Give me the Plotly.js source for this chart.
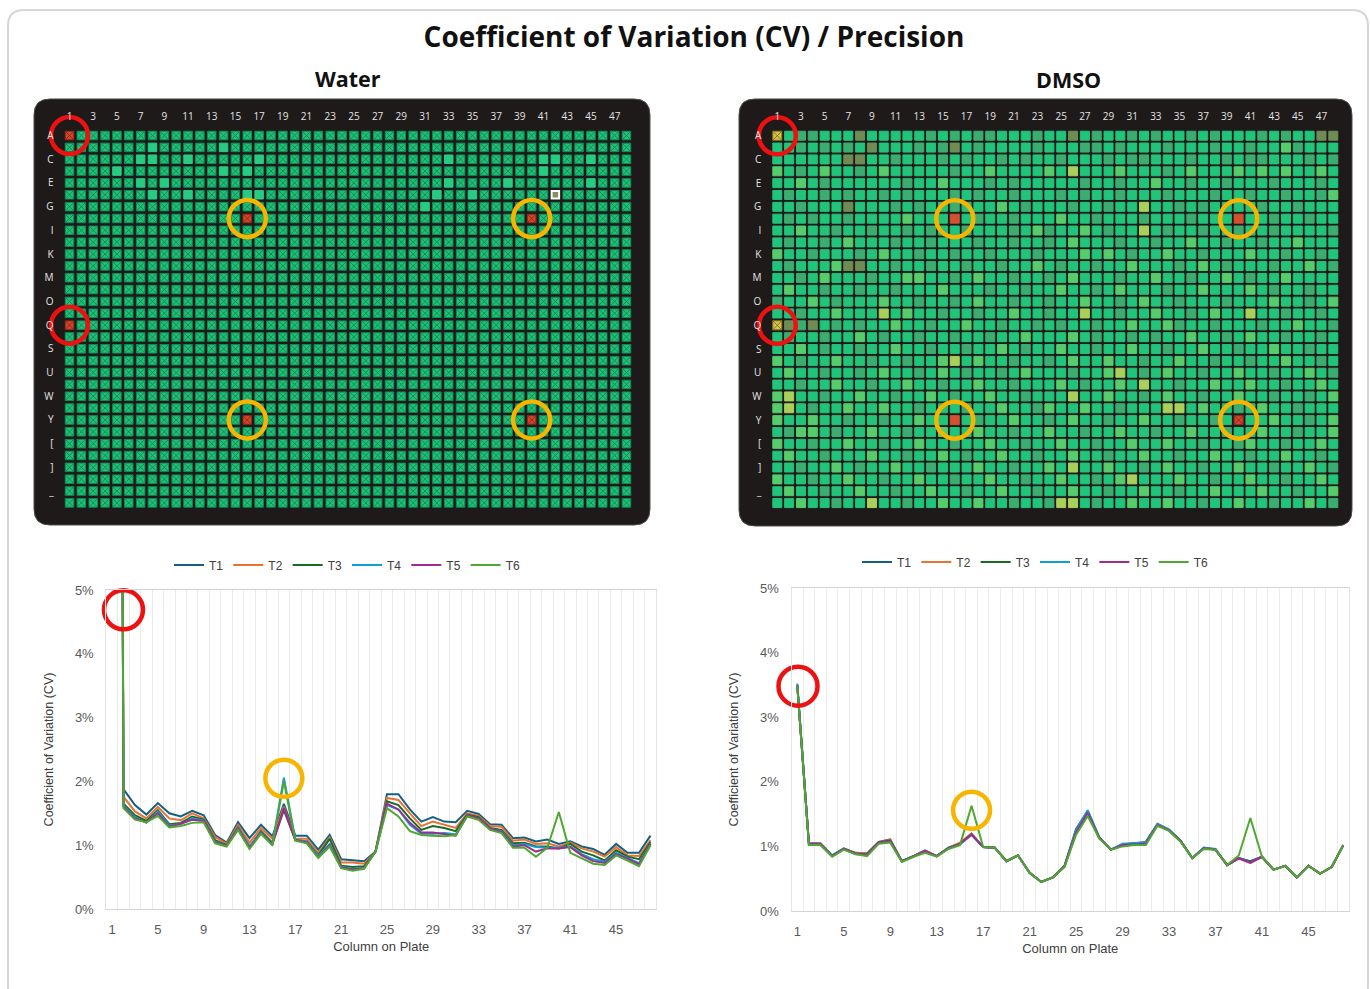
<!DOCTYPE html>
<html><head><meta charset="utf-8">
<script src="https://cdn.plot.ly/plotly-3.0.1.min.js"></script>
<style>html,body{margin:0;padding:0;background:#fff}#chart{width:1370px;height:989px}</style>
</head><body><div id="chart"></div>
<script>
const W = 1370, H = 989;

// ---------- categories ----------
const plateColumns = [1,2,3,4,5,6,7,8,9,10,11,12,13,14,15,16,17,18,19,20,21,22,23,24,25,26,27,28,29,30,31,32,33,34,35,36,37,38,39,40,41,42,43,44,45,46,47,48];
const plateRowLabels = ['A','B','C','D','E','F','G','H','I','J','K','L','M','N','O','P','Q','R','S','T','U','V','W','X','Y','Z','[','\\',']','^','_','`'];
const plateColTicks = [1,3,5,7,9,11,13,15,17,19,21,23,25,27,29,31,33,35,37,39,41,43,45,47];
const plateRowTicks = [1,3,5,7,9,11,13,15,17,19,21,23,25,27,29,31];
const lineColTicks = [1,5,9,13,17,21,25,29,33,37,41,45];
const seriesNames = ['T1','T2','T3','T4','T5','T6'];
const seriesColors = ['#156082','#E97132','#196B24','#0F9ED5','#A02B93','#4EA72E'];

// ---------- Water plate (row, column) ----------
const waterLightWells = [[2,8],[2,14],[3,7],[3,8],[3,11],[3,17],[4,5],[4,14],[4,16],[5,7],[5,9],[6,8],[6,11],[6,16],[6,17],
  [3,33],[3,41],[3,42],[3,45],[4,41],[5,33],[5,38],[5,45],[6,32],[6,35],[7,31]];
const waterRedWells = [[1,1],[17,1],[8,16],[8,40],[25,16],[25,40]];
const waterFlaggedWells = [[6,42]];

// ---------- DMSO plate: one character per well ----------
// . bright green, d muted green, o olive, l light green, y yellow-green, Y yellow (x), R red, r red (x)
const dmsoRows = [
 "Y.dd...o .....d.d .dd...d. .o.d..d. d..d.d.. .d.d..oo",
 "..d.d.d. o...d.do .d....d. ..dd.d.. .d...d.. d..ld...",
 "......oo ..d...d. d..d.d.. d...d.dd ...d..d. dd...d.d",
 "l.d.l..d .l.....d ..l....l .y...l.. .d.l...l .l.l..l.",
 "..l.d... ...d..l. ..d.d... ..d..d.. l..d..d. ..d...d.",
 ".d..d.d. .d.d...d .d..d... d.d..d.. .d...d.. d..d..dl",
 "..d...o. ..d.d..d ...l.d.. .d..d..y ..d.d... .d..d...",
 ".d.d..d. ...l...R .d..d... l..d...d ...d...R ..d..d..",
 "..l..d.. d..d.d.. d...d.ld ..l.d..y .d..d..d ..d....d",
 ".d..d.l. ..d..d.. .d..d..d .l...d.. d..l..d. .d..l...",
 "l..d...d .l..d..d ..d...d. ..l.l.d. .l..d... l..d..d.",
 ".d...loo ..d..d.. d..d..l. d..d..l. ..d.l.d. ..d..l.d",
 "..d.l... d..ll..d .l..d..d .l...d.. l..d..l. d..l....",
 ".l..d..d ..d...l. ..d..d.. l..d.l.. .d..l... l.d..d..",
 "d..l.d.. .l..d..d .l..d..d ..l..d.l ..d...d. ..l..d.l",
 "..d..l.. .y.l..d. .d..l..d ..y..d.. l..d.l.. y..d..d.",
 "Yodo.d.d ..l..d.. l..d..d. d..d..l. .ld..d.. .d..l..d",
 ".d..d..l .d..d..d ..d..l.. .l.d..d. d..l..d. l..d..d.",
 "..l.d..d ..l..d.. d..l.d.. l..d..l. .d..l..d ..l..d..",
 "l.d..l.. d..d..ly .l..d..d .l..l..d ..l..d.. d..l..d.",
 ".l..d..d .l..d.l. d..d.l.. .d..ly.d .l..d..l ..d..l.d",
 "..d..l.. d..l..d. .l..d... l.d..l.y ..d..l.. l..d..l.",
 "ly..d..l ..d..l.d ..l..d.. .y..l..d .l..d..l ..d..d.l",
 "ly.d..l. .l..d... d..l..dl ..l..d.. .yy.l..d .l..d...",
 "l..l..d. .d..l..R .d..l..d .l..d..l ..d..d.r ..l..d.l",
 ".dll.d.. l..d..l. .l..d..l ..d..l.. d..l..d. .l..d..l",
 "l..d..l. .d..l..d ..l..d.. l..d..l. .l..d..d l..d..l.",
 ".l..d... l..d..l. d..l..d. .l..d..l ..d..l.. d..l..d.",
 "..d..l.d ..l..d.. .l..d..l .y..l..d .l..d..l ..d..l.d",
 "l..d..l. .d..l..d ..l..d.. l..d.ly. ..l..d.. l..d..l.",
 ".l..d..l ..d..l.. d..l..d. .l..d..l ..d..l.. .l..d..l",
 "..l..d.. y..d..l. .l..d..d yy.d..l. .l..d..l ..d..l.d"
];

// ---------- CV (%) per plate column, Water ----------
const waterT1 = [50,1.88,1.63,1.48,1.66,1.50,1.45,1.54,1.47,1.16,1.04,1.36,1.11,1.32,1.14,1.65,1.15,1.15,0.93,1.16,0.78,0.77,0.75,0.90,1.80,1.80,1.56,1.37,1.44,1.37,1.36,1.54,1.49,1.33,1.32,1.11,1.12,1.06,1.09,1.02,1.06,0.98,0.94,0.85,1.02,0.88,0.88,1.15];
const waterT2 = [50,1.76,1.53,1.42,1.60,1.42,1.39,1.50,1.42,1.13,1.02,1.32,1.04,1.27,1.10,1.60,1.10,1.10,0.88,1.12,0.73,0.73,0.71,0.90,1.74,1.71,1.50,1.30,1.37,1.32,1.27,1.50,1.46,1.30,1.29,1.07,1.09,1.02,1.03,0.98,1.04,0.95,0.90,0.82,0.97,0.84,0.83,1.08];
const waterT3 = [50,1.65,1.47,1.38,1.55,1.33,1.35,1.45,1.40,1.08,1.00,1.28,0.97,1.22,1.04,1.55,1.08,1.06,0.84,1.10,0.68,0.66,0.67,0.90,1.69,1.63,1.42,1.24,1.30,1.27,1.22,1.48,1.44,1.27,1.24,1.03,1.04,0.98,0.98,0.95,1.02,0.90,0.84,0.76,0.92,0.82,0.78,1.05];
const waterT4 = [50,1.62,1.44,1.35,1.53,1.31,1.33,1.42,1.39,1.06,0.99,1.27,0.98,1.20,1.02,2.06,1.09,1.05,0.83,1.02,0.66,0.63,0.64,0.90,1.63,1.56,1.32,1.18,1.18,1.19,1.17,1.46,1.42,1.26,1.22,1.00,1.02,0.97,0.96,0.96,0.98,0.86,0.78,0.74,0.88,0.80,0.72,1.02];
const waterT5 = [50,1.60,1.42,1.36,1.50,1.29,1.34,1.40,1.38,1.05,0.99,1.26,0.96,1.19,1.01,1.58,1.08,1.04,0.81,1.00,0.65,0.62,0.64,0.90,1.65,1.56,1.35,1.20,1.20,1.18,1.15,1.47,1.42,1.26,1.21,0.98,1.00,0.90,0.95,0.95,0.97,0.84,0.75,0.72,0.86,0.79,0.70,1.02];
const waterT6 = [50,1.58,1.40,1.36,1.46,1.28,1.30,1.35,1.36,1.03,0.98,1.24,0.94,1.18,1.00,2.00,1.07,1.03,0.80,0.98,0.64,0.60,0.63,0.90,1.58,1.45,1.22,1.16,1.15,1.14,1.16,1.45,1.40,1.24,1.19,0.96,0.96,0.82,0.96,1.52,0.88,0.80,0.71,0.69,0.84,0.76,0.67,1.00];

// ---------- CV (%) per plate column, DMSO ----------
const dmsoT1 = [3.50,1.05,1.05,0.86,0.97,0.90,0.89,1.07,1.11,0.77,0.85,0.94,0.85,0.98,1.05,1.19,0.99,0.98,0.77,0.86,0.59,0.45,0.52,0.70,1.27,1.55,1.14,0.95,1.03,1.05,1.07,1.35,1.26,1.09,0.82,0.98,0.96,0.71,0.82,0.77,0.84,0.64,0.70,0.52,0.70,0.58,0.68,1.02];
const dmsoT2 = [3.48,1.04,1.04,0.85,0.96,0.90,0.89,1.06,1.10,0.77,0.84,0.93,0.85,0.97,1.06,1.20,0.99,0.98,0.77,0.86,0.59,0.45,0.52,0.69,1.24,1.52,1.13,0.95,1.02,1.04,1.05,1.34,1.25,1.08,0.82,0.97,0.95,0.71,0.81,0.74,0.84,0.64,0.70,0.52,0.70,0.58,0.68,1.02];
const dmsoT3 = [3.48,1.03,1.03,0.85,0.96,0.89,0.88,1.06,1.09,0.77,0.85,0.92,0.85,0.97,1.04,1.19,0.99,0.98,0.77,0.86,0.59,0.45,0.52,0.69,1.23,1.53,1.13,0.95,1.02,1.04,1.05,1.33,1.25,1.08,0.82,0.97,0.95,0.71,0.82,0.76,0.84,0.64,0.70,0.52,0.70,0.58,0.68,1.02];
const dmsoT4 = [3.52,1.03,1.02,0.85,0.96,0.88,0.87,1.05,1.07,0.77,0.85,0.92,0.85,0.97,1.03,1.18,0.99,0.98,0.77,0.86,0.59,0.45,0.52,0.69,1.25,1.56,1.13,0.95,1.04,1.05,1.06,1.34,1.26,1.08,0.82,0.98,0.95,0.71,0.82,0.75,0.84,0.64,0.70,0.52,0.70,0.58,0.68,1.02];
const dmsoT5 = [3.49,1.04,1.03,0.85,0.96,0.89,0.87,1.06,1.08,0.77,0.85,0.93,0.85,0.97,1.04,1.18,0.99,0.98,0.77,0.86,0.59,0.45,0.52,0.69,1.22,1.52,1.13,0.95,1.02,1.03,1.04,1.33,1.25,1.08,0.82,0.97,0.95,0.71,0.82,0.75,0.84,0.64,0.70,0.52,0.70,0.58,0.68,1.02];
const dmsoT6 = [3.48,1.02,1.02,0.84,0.95,0.88,0.85,1.04,1.06,0.76,0.84,0.90,0.84,0.96,1.02,1.63,0.99,0.98,0.77,0.86,0.59,0.45,0.52,0.68,1.18,1.47,1.12,0.95,1.00,1.02,1.02,1.32,1.24,1.07,0.82,0.96,0.95,0.71,0.86,1.44,0.84,0.64,0.70,0.52,0.70,0.58,0.68,1.02];

// highlighted wells (row, column) and highlighted chart points (column, CV %)
const plateRedCircles = [[1,1],[17,1]];
const plateYellowCircles = [[8,16],[8,40],[25,16],[25,40]];
const waterRedPoint = [2,4.69], waterYellowPoint = [16,2.05];
const dmsoRedPoint = [1.06,3.48], dmsoYellowPoint = [16,1.56];

// ---------- styles ----------
const FONT = 'Liberation Sans, Arial, sans-serif';
const TITLEFONT = 'Open Sans, Liberation Sans, sans-serif';
const RED = '#ee1111', YELLOW = '#f7b500';

const px2x = p => p / W, py2y = p => 1 - p / H;
const domX = (a,b) => [a/W, b/W];
const domY = (a,b) => [1 - b/H, 1 - a/H];

function roundRect(x0,y0,x1,y1,r){
  const P=(x,y)=>px2x(x).toFixed(5)+','+py2y(y).toFixed(5);
  return 'M'+P(x0+r,y0)+' L'+P(x1-r,y0)+' Q'+P(x1,y0)+' '+P(x1,y0+r)+
    ' L'+P(x1,y1-r)+' Q'+P(x1,y1)+' '+P(x1-r,y1)+' L'+P(x0+r,y1)+
    ' Q'+P(x0,y1)+' '+P(x0,y1-r)+' L'+P(x0,y0+r)+' Q'+P(x0,y0)+' '+P(x0+r,y0)+' Z';
}

const traces = [];
function wellTrace(cells, xa, ya, symbol, color, lineColor, lineWidth, size){
  traces.push({
    type:'scatter', mode:'markers', xaxis:xa, yaxis:ya, showlegend:false, hoverinfo:'skip',
    x: cells.map(c=>plateColumns[c[1]-1]), y: cells.map(c=>c[0]),
    marker:{symbol:symbol, size:size, color:color, line:{color:lineColor, width:lineWidth}}
  });
}

// Water plate
const key = (r,c)=>r+'_'+c;
const special = new Set([...waterLightWells, ...waterRedWells, ...waterFlaggedWells].map(w=>key(w[0],w[1])));
const waterNormal = [];
for(let r=1;r<=plateRowLabels.length;r++) for(let c=1;c<=plateColumns.length;c++) if(!special.has(key(r,c))) waterNormal.push([r,c]);
wellTrace(waterNormal,'x','y','square-x','#1fc079','#118d54',1,8.5);
wellTrace(waterLightWells,'x','y','square','#27cc83','#27cc83',1,8.5);
wellTrace(waterRedWells,'x','y','square-x','#d2472c','#8f2a18',1,8.5);
wellTrace(waterFlaggedWells,'x','y','square','#7d9366','#ffffff',2,7.5);

// DMSO plate
const dmsoStyles = {
  '.':{sym:'square',  color:'#20c47a', line:'#20c47a'},
  'd':{sym:'square',  color:'#3aae70', line:'#3aae70'},
  'o':{sym:'square',  color:'#6f8c55', line:'#6f8c55'},
  'l':{sym:'square',  color:'#55cd6c', line:'#55cd6c'},
  'y':{sym:'square',  color:'#a9d05a', line:'#a9d05a'},
  'Y':{sym:'square-x',color:'#d5c14c', line:'#8a7a20'},
  'R':{sym:'square',  color:'#d2512f', line:'#d2512f'},
  'r':{sym:'square-x',color:'#d2452f', line:'#8f2a18'}
};
const dmsoGroups = {};
dmsoRows.forEach((s,ri)=>{
  s.replace(/ /g,'').split('').forEach((ch,ci)=>{
    (dmsoGroups[ch] = dmsoGroups[ch] || []).push([ri+1, ci+1]);
  });
});
Object.keys(dmsoStyles).forEach(k=>{
  if(!dmsoGroups[k]) return;
  const st = dmsoStyles[k];
  wellTrace(dmsoGroups[k],'x2','y2',st.sym,st.color,st.line,1,9);
});

// Line charts
const waterSeries = [waterT1,waterT2,waterT3,waterT4,waterT5,waterT6];
const dmsoSeries = [dmsoT1,dmsoT2,dmsoT3,dmsoT4,dmsoT5,dmsoT6];
waterSeries.forEach((s,i)=>traces.push({type:'scatter',mode:'lines',name:seriesNames[i],x:plateColumns,y:s,
  xaxis:'x3',yaxis:'y3',legend:'legend',line:{color:seriesColors[i],width:2},hoverinfo:'skip'}));
dmsoSeries.forEach((s,i)=>traces.push({type:'scatter',mode:'lines',name:seriesNames[i],x:plateColumns,y:s,
  xaxis:'x4',yaxis:'y4',legend:'legend2',line:{color:seriesColors[i],width:2},hoverinfo:'skip'}));

// Highlight rings (open circle markers, not clipped)
function ring(xa, ya, pts, color, size){
  traces.push({type:'scatter', mode:'markers', xaxis:xa, yaxis:ya, showlegend:false, hoverinfo:'skip', cliponaxis:false,
    x: pts.map(p=>p[0]), y: pts.map(p=>p[1]),
    marker:{symbol:'circle-open', size:size, color:color, line:{width:4.5, color:color}}});
}
[['x','y'],['x2','y2']].forEach(([xa,ya])=>{
  ring(xa,ya,plateRedCircles.map(w=>[w[1],w[0]]),RED,37);
  ring(xa,ya,plateYellowCircles.map(w=>[w[1],w[0]]),YELLOW,37);
});
ring('x3','y3',[waterRedPoint],RED,39);
ring('x3','y3',[waterYellowPoint],YELLOW,37);
ring('x4','y4',[dmsoRedPoint],RED,39);
ring('x4','y4',[dmsoYellowPoint],YELLOW,37);

// ---------- axes ----------
function plateX(dom, anchor){
  return {domain:dom, anchor:anchor, range:[0.5,48.5], side:'top', tickmode:'array', tickvals:plateColTicks,
    ticktext:plateColTicks.map(String), ticks:'', ticklabelstandoff:7, showgrid:false, zeroline:false, showline:false,
    tickfont:{family:'Open Sans, DejaVu Sans, sans-serif', size:10, color:'#e4e4e4'}, fixedrange:true};
}
function plateY(dom, anchor){
  return {domain:dom, anchor:anchor, range:[32.5,0.5], tickmode:'array', tickvals:plateRowTicks,
    ticktext:plateRowTicks.map(r=>plateRowLabels[r-1]), ticks:'', ticklabelstandoff:9, showgrid:false, zeroline:false, showline:false,
    tickfont:{family:'Open Sans, DejaVu Sans, sans-serif', size:10, color:'#e4e4e4'}, fixedrange:true};
}
function lineX(dom, anchor){
  return {domain:dom, anchor:anchor, range:[0.5,48.5], tickmode:'array', tickvals:lineColTicks, ticks:'',
    ticklabelstandoff:8, showgrid:false, zeroline:false, showline:true, linecolor:'#d4d4d4', linewidth:1, mirror:true,
    minor:{tickmode:'linear', tick0:0.5, dtick:1, showgrid:true, gridcolor:'#ebebeb', gridwidth:1, ticks:''},
    tickfont:{family:FONT, size:13, color:'#595959'},
    title:{text:'Column on Plate', standoff:6, font:{family:FONT, size:13, color:'#404040'}}, fixedrange:true};
}
function lineY(dom, anchor){
  return {domain:dom, anchor:anchor, range:[0,5], tickmode:'linear', tick0:0, dtick:1, ticksuffix:'%', ticks:'',
    ticklabelstandoff:9, showgrid:false, zeroline:false, showline:true, linecolor:'#e4e4e4', linewidth:1, mirror:true,
    tickfont:{family:FONT, size:13, color:'#595959'},
    title:{text:'Coefficient of Variation (CV)', standoff:18, font:{family:FONT, size:12.5, color:'#404040'}}, fixedrange:true};
}

// ---------- shapes (frame and plate panels) ----------
const shapes = [
  {type:'path', xref:'paper', yref:'paper', layer:'below', path:roundRect(8,10,1368,1002,16), line:{color:'#d6d6d6', width:2}, fillcolor:'rgba(0,0,0,0)'},
  {type:'path', xref:'paper', yref:'paper', layer:'below', path:roundRect(34,99,650,525,16), line:{color:'#4a4a4a', width:1}, fillcolor:'#1e1a1a'},
  {type:'path', xref:'paper', yref:'paper', layer:'below', path:roundRect(739,99,1352,526,16), line:{color:'#4a4a4a', width:1}, fillcolor:'#1e1a1a'}
];

const legendStyle = (x,y)=>({orientation:'h', x:x, xanchor:'center', y:y, yanchor:'middle', itemwidth:30,
  font:{family:FONT, size:12, color:'#404040'}, bgcolor:'rgba(0,0,0,0)', tracegroupgap:0});

const layout = {
  width:W, height:H, margin:{l:0,r:0,t:0,b:0}, paper_bgcolor:'#ffffff', plot_bgcolor:'rgba(0,0,0,0)',
  font:{family:FONT},
  title:{text:'<b>Coefficient of Variation (CV) / Precision</b>', x:px2x(694), xanchor:'center', y:py2y(37), yanchor:'middle',
    font:{family:TITLEFONT, size:28, color:'#111111'}},
  xaxis: plateX(domX(63.6,632.4),'y'),  yaxis: plateY(domY(129.6,508.8),'x'),
  xaxis2: plateX(domX(771.4,1339.2),'y2'), yaxis2: plateY(domY(129.8,509.0),'x2'),
  xaxis3: lineX(domX(106.3,656.2),'y3'), yaxis3: lineY(domY(590,909),'x3'),
  xaxis4: lineX(domX(791.5,1349.1),'y4'), yaxis4: lineY(domY(588,911),'x4'),
  legend: legendStyle(px2x(347), py2y(565)),
  legend2: legendStyle(px2x(1035), py2y(562)),
  shapes: shapes,
  annotations:[
    {text:'<b>Water</b>', xref:'paper', yref:'paper', x:px2x(348), y:py2y(79), xanchor:'center', yanchor:'middle', showarrow:false,
     font:{family:TITLEFONT, size:21.5, color:'#111111'}},
    {text:'<b>DMSO</b>', xref:'paper', yref:'paper', x:px2x(1068), y:py2y(80), xanchor:'center', yanchor:'middle', showarrow:false,
     font:{family:TITLEFONT, size:21.5, color:'#111111'}}
  ]
};
Plotly.newPlot('chart', traces, layout, {displayModeBar:false, staticPlot:true});
</script></body></html>
